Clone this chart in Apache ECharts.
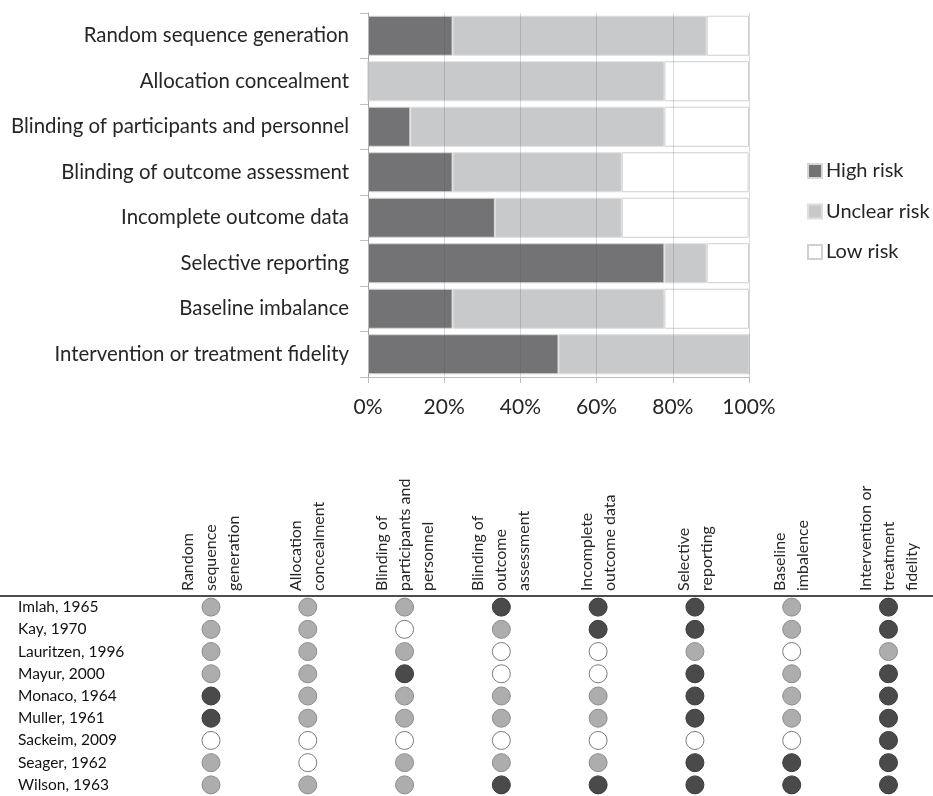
<!DOCTYPE html>
<html>
<head>
<meta charset="utf-8">
<script src="https://cdn.jsdelivr.net/npm/echarts@6/dist/echarts.min.js"></script>
<style>
  html, body { margin: 0; padding: 0; background: #fff; }
  #main { width: 933px; height: 796px; }
</style>
</head>
<body>
<div id="main"></div>
<script>
// risk of bias domains (summary bars)
var domains = [
  'Random sequence generation',
  'Allocation concealment',
  'Blinding of participants and personnel',
  'Blinding of outcome assessment',
  'Incomplete outcome data',
  'Selective reporting',
  'Baseline imbalance',
  'Intervention or treatment fidelity'
];
// percentages of studies
var highRisk = [22.2, 0, 11.1, 22.2, 33.3, 77.8, 22.2, 50];
var unclearRisk = [66.7, 77.8, 66.7, 44.4, 33.3, 11.1, 55.6, 50];
var lowRisk = [11.1, 22.2, 22.2, 33.3, 33.3, 11.1, 22.2, 0];

// column headers of the per-study table
var headers = [
  'Random\nsequence\ngeneration',
  'Allocation\nconcealment',
  'Blinding of\nparticipants and\npersonnel',
  'Blinding of\noutcome\nassessment',
  'Incomplete\noutcome data',
  'Selective\nreporting',
  'Baseline\nimbalence',
  'Intervention or\ntreatment\nfidelity'
];
var studies = [
  'Imlah, 1965', 'Kay, 1970', 'Lauritzen, 1996', 'Mayur, 2000', 'Monaco, 1964',
  'Muller, 1961', 'Sackeim, 2009', 'Seager, 1962', 'Wilson, 1963'
];
// H = high, U = unclear, L = low
var judgements = [
  ['U', 'U', 'U', 'H', 'H', 'H', 'U', 'H'],
  ['U', 'U', 'L', 'U', 'H', 'H', 'U', 'H'],
  ['U', 'U', 'U', 'L', 'L', 'U', 'L', 'U'],
  ['U', 'U', 'H', 'L', 'L', 'H', 'U', 'H'],
  ['H', 'U', 'U', 'U', 'U', 'H', 'U', 'H'],
  ['H', 'U', 'U', 'U', 'U', 'H', 'U', 'H'],
  ['L', 'L', 'L', 'L', 'L', 'L', 'L', 'H'],
  ['U', 'L', 'U', 'U', 'U', 'H', 'H', 'H'],
  ['U', 'U', 'U', 'H', 'H', 'H', 'H', 'H']
];

var FONT = 'Lato';
var TXT = '#262626';

function cells(code) {
  var out = [];
  judgements.forEach(function (row, r) {
    row.forEach(function (v, c) {
      if (v === code) out.push([c, r]);
    });
  });
  return out;
}

var dotStyle = {
  H: { color: '#4a4a4a', borderColor: '#3a3a3a', borderWidth: 1, opacity: 1 },
  U: { color: '#adadad', borderColor: '#8c8c8c', borderWidth: 1, opacity: 1 },
  L: { color: '#ffffff', borderColor: '#7a7a7a', borderWidth: 1, opacity: 1 }
};

var option = {
  animation: false,
  textStyle: { fontFamily: FONT },
  legend: {
    data: ['High risk', 'Unclear risk', 'Low risk'],
    orient: 'vertical',
    left: 802,
    top: 156,
    itemWidth: 14,
    itemHeight: 14,
    itemGap: 20.5,
    icon: 'rect',
    textStyle: { fontFamily: FONT, fontSize: 20, color: TXT, padding: [0, 0, 0, -1] }
  },
  grid: [
    { left: 368, top: 13, width: 381, height: 364 },
    { left: 0, right: 0, top: 596, bottom: -3 }
  ],
  xAxis: [
    {
      gridIndex: 0,
      type: 'value',
      min: 0,
      max: 100,
      interval: 20,
      z: 10,
      axisLine: { show: true, lineStyle: { color: '#bdbdbd' } },
      axisTick: { show: true, length: 6, lineStyle: { color: '#bdbdbd' } },
      splitLine: { show: true, lineStyle: { color: 'rgba(80,80,80,0.22)', width: 1 } },
      axisLabel: { formatter: '{value}%', fontSize: 21, color: TXT, margin: 20, fontFamily: FONT }
    },
    {
      gridIndex: 1,
      type: 'value',
      position: 'top',
      min: -2.18,
      max: 7.46,
      axisLine: { show: true, lineStyle: { color: '#111', width: 1.5 } },
      axisTick: { show: false },
      splitLine: { show: false },
      axisLabel: {
        customValues: [0, 1, 2, 3, 4, 5, 6, 7],
        rotate: -90,
        margin: 5,
        fontSize: 16,
        lineHeight: 23,
        color: TXT,
        fontFamily: FONT,
        formatter: function (v) { return headers[Math.round(v)]; }
      }
    }
  ],
  yAxis: [
    {
      gridIndex: 0,
      type: 'category',
      inverse: true,
      data: domains,
      axisLine: { show: true, lineStyle: { color: '#bdbdbd' } },
      axisTick: { show: true, length: 8, lineStyle: { color: '#bdbdbd' } },
      axisLabel: { fontSize: 20.4, color: TXT, margin: 19, fontFamily: FONT }
    },
    {
      gridIndex: 1,
      type: 'category',
      inverse: true,
      data: studies,
      axisLine: { show: false },
      axisTick: { show: false },
      axisLabel: { inside: true, margin: 18, fontSize: 15.5, color: '#111', fontFamily: FONT }
    }
  ],
  series: [
    {
      name: 'High risk', type: 'bar', stack: 'rob', xAxisIndex: 0, yAxisIndex: 0,
      barCategoryGap: '12%', data: highRisk,
      itemStyle: { color: '#737375', borderColor: '#d6d6d6', borderWidth: 1 }
    },
    {
      name: 'Unclear risk', type: 'bar', stack: 'rob', xAxisIndex: 0, yAxisIndex: 0,
      barCategoryGap: '12%', data: unclearRisk,
      itemStyle: { color: '#c8c9cb', borderColor: '#dedede', borderWidth: 1 }
    },
    {
      name: 'Low risk', type: 'bar', stack: 'rob', xAxisIndex: 0, yAxisIndex: 0,
      barCategoryGap: '12%', data: lowRisk,
      itemStyle: { color: '#ffffff', borderColor: '#d0d0d0', borderWidth: 1 }
    },
    {
      name: 'high', type: 'scatter', xAxisIndex: 1, yAxisIndex: 1,
      symbolSize: 18, data: cells('H'), itemStyle: dotStyle.H
    },
    {
      name: 'unclear', type: 'scatter', xAxisIndex: 1, yAxisIndex: 1,
      symbolSize: 18, data: cells('U'), itemStyle: dotStyle.U
    },
    {
      name: 'low', type: 'scatter', xAxisIndex: 1, yAxisIndex: 1,
      symbolSize: 18, data: cells('L'), itemStyle: dotStyle.L
    }
  ]
};

var myChart = echarts.init(document.getElementById('main'));
myChart.setOption(option);
</script>
</body>
</html>
